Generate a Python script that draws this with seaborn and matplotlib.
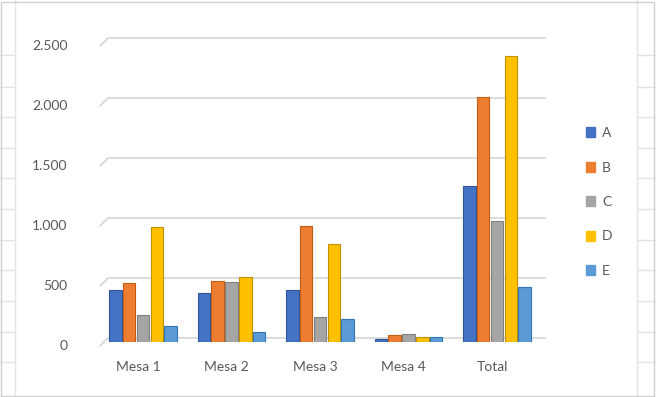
import pandas as pd
import seaborn as sns
import matplotlib.pyplot as plt
from matplotlib.patches import Patch
from matplotlib.lines import Line2D
from matplotlib.ticker import FuncFormatter
from matplotlib.transforms import ScaledTranslation

# Values
categories = ['Mesa 1', 'Mesa 2', 'Mesa 3', 'Mesa 4', 'Total']
series = ['A', 'B', 'C', 'D', 'E']
values_a = [430, 410, 430, 25, 1300]
values_b = [490, 510, 970, 60, 2040]
values_c = [225, 500, 205, 70, 1010]
values_d = [960, 545, 820, 45, 2380]
values_e = [135, 85, 190, 40, 460]
y_ticks = [0, 500, 1000, 1500, 2000, 2500]

colors = ['#4472C4', '#ED7D31', '#A5A5A5', '#FFC000', '#5B9BD5']
edges = ['#2F5597', '#C55A11', '#7F7F7F', '#BF9000', '#2E75B6']

rows = []
for name, vals in zip(series, [values_a, values_b, values_c, values_d, values_e]):
    for cat, v in zip(categories, vals):
        rows.append({'cat': cat, 'serie': name, 'valor': v})
df = pd.DataFrame(rows)

sns.set_style('white')
plt.rcParams['font.family'] = ['Lato', 'DejaVu Sans']

W, H = 656, 397
Y0, PX = 342, 0.12  # pixel row of value 0, pixels per unit
fig = plt.figure(figsize=(W / 100, H / 100), dpi=100)

# axes placed in pixel terms
ax = fig.add_axes([98 / W, 1 - Y0 / H, (545 - 98) / W, (2500 * PX) / H])
ax.set_facecolor('none')

sns.barplot(data=df, x='cat', y='valor', hue='serie', palette=colors,
            saturation=1, width=0.78, gap=0.1, ax=ax, legend=False, zorder=3)

for i, container in enumerate(ax.containers):
    for bar in container:
        bar.set_edgecolor(edges[i])
        bar.set_linewidth(0.8)

# group centres at ~143 px, spacing 88.5 px
ax.set_xlim(-(143 - 98) / 88.5, (545 - 143) / 88.5)
ax.set_ylim(0, 2500)
ax.set_yticks(y_ticks)
ax.yaxis.set_major_formatter(FuncFormatter(lambda v, p: f'{int(v):,}'.replace(',', '.')))
sns.despine(ax=ax, left=True, bottom=True, top=True, right=True)
ax.set_xlabel('')
ax.set_ylabel('')
ax.tick_params(axis='both', length=0, labelsize=10, colors='#595959')
ax.tick_params(axis='y', pad=22)
ax.tick_params(axis='x', pad=14)
for lab in ax.get_xticklabels():
    lab.set_transform(lab.get_transform() + ScaledTranslation(-5 / 100, 0, fig.dpi_scale_trans))
for lab in ax.get_yticklabels():
    lab.set_transform(lab.get_transform() + ScaledTranslation(0, -3 / 100, fig.dpi_scale_trans))

# gridlines on the back wall with perspective floor edge at the left
for v in y_ticks:
    y = Y0 - PX * v
    fig.add_artist(Line2D([100 / W, 108 / W, 545 / W],
                          [1 - (y + 4) / H, 1 - (y - 4) / H, 1 - (y - 4) / H],
                          color='#d9d9d9', lw=1.3, zorder=-1))

# legend
handles = [Patch(facecolor=c, edgecolor=c) for c in colors]
fig.legend(handles, series, loc='center left', bbox_to_anchor=(573 / W, 1 - 202 / H),
           frameon=False, fontsize=10, labelcolor='#595959', handlelength=0.7,
           handleheight=0.7, handletextpad=0.5, labelspacing=1.62)

# faint sheet cell lines and chart border
for x in [15, 637]:
    fig.add_artist(Line2D([x / W, x / W], [0, 1], color='#e3e3e3', lw=1, zorder=-1))
for y in [55, 87, 117, 148, 178, 209, 240, 270, 301, 332, 362]:
    fig.add_artist(Line2D([0, 15 / W], [1 - y / H, 1 - y / H], color='#e3e3e3', lw=1, zorder=-1))
    fig.add_artist(Line2D([637 / W, 1], [1 - y / H, 1 - y / H], color='#e3e3e3', lw=1, zorder=-1))
fig.add_artist(plt.Rectangle((1 / W, 1 / H), 1 - 3 / W, 1 - 3 / H, fill=False,
                             edgecolor='#d0d0d0', lw=1, transform=fig.transFigure))

fig.savefig('out.png', dpi=100)
